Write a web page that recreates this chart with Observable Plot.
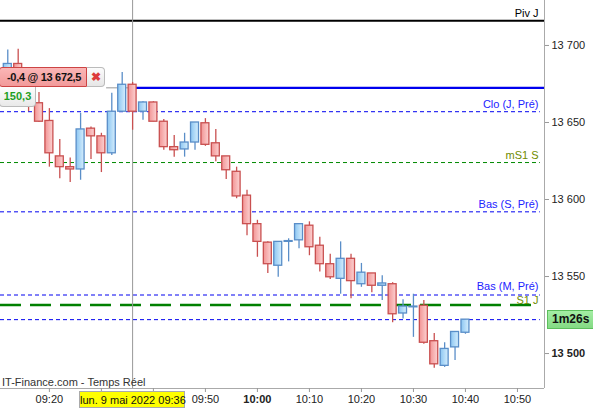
<!DOCTYPE html>
<html>
<head>
<meta charset="utf-8">
<script src="https://cdn.jsdelivr.net/npm/d3@7"></script>
<script src="https://cdn.jsdelivr.net/npm/@observablehq/plot@0.6"></script>
<style>
  html, body { margin: 0; padding: 0; background: #fff; }
  #wrap { position: relative; width: 593px; height: 408px; overflow: hidden; font-family: "Liberation Sans", Arial, sans-serif; }
  #wrap svg { position: absolute; left: 0; top: 0; }
  .ov { position: absolute; box-sizing: border-box; white-space: nowrap; }
</style>
</head>
<body>
<div id="wrap"></div>
<script>
// ---- data ----
const times = ["09:12","09:14","09:16","09:18","09:20","09:22","09:24","09:26","09:28","09:30",
               "09:32","09:34","09:36","09:38","09:40","09:42","09:44","09:46","09:48","09:50",
               "09:52","09:54","09:56","09:58","10:00","10:02","10:04","10:06","10:08","10:10",
               "10:12","10:14","10:16","10:18","10:20","10:22","10:24","10:26","10:28","10:30",
               "10:32","10:34","10:36","10:38","10:40"];
const opens  = [13677,13688,13674,13662.5,13651,13628,13621,13619.5,13646,13641,
                13630,13657,13674.5,13657,13663,13650.5,13634,13632.5,13637,13649.5,
                13636.5,13628,13618,13602.5,13584,13572,13557,13572.5,13573.5,13583,
                13570,13558,13548.5,13561.5,13545,13552,13544,13545,13526,13530,
                13531,13508,13492,13504,13513.5];
const highs  = [13697,13697.5,13678,13669.5,13659,13639,13627,13656,13647,13643,
                13669,13682.5,13676,13663.5,13663.5,13652,13641.5,13643,13650,13652.5,
                13645.5,13628,13621,13606,13586.5,13572.5,13572.5,13574.5,13584,13585.5,
                13575.5,13564.5,13572.5,13564.5,13558.5,13552,13550.5,13546,13535,13538.5,
                13534.5,13513,13507,13514,13522];
const lows   = [13673,13669,13657,13650,13621,13613.5,13611,13612.5,13626,13617.5,
                13628.5,13657,13645,13651.5,13650.5,13632,13627.5,13627.5,13632,13634.5,
                13624.5,13613,13600.5,13576.5,13562.5,13552,13549.5,13559.5,13568,13563.5,
                13553,13548,13538.5,13535.5,13543,13539.5,13534.5,13520,13522.5,13510.5,
                13506,13490.5,13491,13495.5,13512.5];
const closes = [13688,13674,13662.5,13650.5,13630,13621,13619.5,13645.5,13641,13630,
                13657,13674.5,13657,13663,13650.5,13634,13632,13637,13650,13635.5,
                13628,13619,13602,13584,13572.5,13558,13572.5,13573,13584,13569,
                13558,13549.5,13561.5,13547,13552.5,13544,13545.5,13525.5,13530.5,13530.5,
                13507,13493,13503,13514,13522];

const levelLabels = ["Piv J", "Clo (J, Pré)", "mS1 S", "Bas (S, Pré)", "Bas (M, Pré)", "S1 J"];
const levelValues = [13716, 13657, 13624, 13592, 13538, 13531.5];
const positionPrice = 13672.5;
const positionText = "-0,4 @ 13 672,5";
const pnlText = "150,3";
const cursorTime = "09:36";
const cursorLabel = "lun. 9 mai 2022 09:36";
const countdownText = "1m26s";
const sourceText = "IT-Finance.com - Temps Réel";
const yTicks = [13500, 13550, 13600, 13650, 13700];
const xTickLabels = ["09:20","09:30","09:40","09:50","10:00","10:10","10:20","10:30","10:40","10:50"];
const hiddenXLabels = ["09:30","09:40"]; // covered by the cursor date label

// ---- build ----
const parse = d3.utcParse("%Y-%m-%d %H:%M");
const T = s => parse("2022-05-09 " + s);
const candles = times.map((s, i) => ({t: T(s), o: opens[i], h: highs[i], l: lows[i], c: closes[i]}));
const up = candles.filter(d => d.c >= d.o);
const down = candles.filter(d => d.c < d.o);
const half = 46 * 1000;
const xDomain = [new Date(T("09:10").getTime() + 36000), new Date(T("10:55").getTime() + 12000)];
const yDomain = [13477.3, 13729.2];
const dashEnd = new Date(T("10:54").getTime() + 24000);
const levels = levelLabels.map((label, i) => ({label, value: levelValues[i]}));
const lastClose = closes[closes.length - 1];
const yFmt = d => d3.format(",")(d).replace(",", " ");
const hm = d3.utcFormat("%H:%M");
const xFmt = d => hiddenXLabels.includes(hm(d)) ? "" : hm(d);
const labelColor = d => d.label === "Piv J" ? "#000" : (d.label.includes("S1") ? "#6f8c00" : "#2222ff");
const isTight = d => d.label === "Bas (M, Pré)" || d.label === "S1 J";

const RED = "#c95050", BLUE = "#5a8ec8";

const plot = Plot.plot({
  width: 593, height: 408,
  marginLeft: 0, marginRight: 49, marginTop: 0, marginBottom: 20,
  style: {fontFamily: "'Liberation Sans', Arial, sans-serif", fontSize: "11px", color: "#222", background: "transparent"},
  x: {type: "utc", domain: xDomain},
  y: {domain: yDomain},
  marks: [
    // frame
    Plot.ruleX([xDomain[1]], {stroke: "#aaa"}),
    Plot.ruleY([yDomain[0]], {stroke: "#aaa"}),
    // levels
    Plot.ruleY(levels.filter(d => d.label === "Piv J"), {y: "value", stroke: "#000", strokeWidth: 2}),
    Plot.ruleY([...levels.filter(d => d.label.startsWith("Clo") || d.label.startsWith("Bas")).map(d => d.value), lastClose],
      {y: d => d, x1: () => xDomain[0], x2: () => dashEnd, stroke: "#0000f0", strokeDasharray: "4,3"}),
    Plot.ruleY(levels.filter(d => d.label === "mS1 S"),
      {y: "value", x1: () => xDomain[0], x2: () => dashEnd, stroke: "#008a00", strokeDasharray: "4,3"}),
    Plot.ruleY(levels.filter(d => d.label === "S1 J"),
      {y: "value", x1: () => xDomain[0], x2: () => dashEnd, stroke: "#008000", strokeWidth: 2.5, strokeDasharray: "21,9"}),
    // position line
    Plot.ruleY([positionPrice], {y: d => d, x1: () => T("09:31"), x2: () => T(cursorTime), stroke: "#999"}),
    Plot.ruleY([positionPrice], {y: d => d, x1: () => T(cursorTime), x2: () => xDomain[1], stroke: "#0000ee", strokeWidth: 2.2}),
    // level labels
    Plot.text(levels.filter(d => !isTight(d)), {y: "value", text: "label", frameAnchor: "right", dx: -6, dy: -7,
      textAnchor: "end", fill: labelColor}),
    Plot.text(levels.filter(d => d.label === "Bas (M, Pré)"), {y: "value", text: "label", frameAnchor: "right", dx: -6, dy: -9,
      textAnchor: "end", fill: labelColor}),
    Plot.text(levels.filter(d => d.label === "S1 J"), {y: "value", text: "label", frameAnchor: "right", dx: -6, dy: -5,
      textAnchor: "end", fill: labelColor}),
    // crosshair
    Plot.ruleX([T(cursorTime)], {stroke: "#999"}),
    // candles
    Plot.ruleX(up, {x: "t", y1: "l", y2: "h", stroke: BLUE, strokeWidth: 1.3}),
    Plot.ruleX(down, {x: "t", y1: "l", y2: "h", stroke: RED, strokeWidth: 1.3}),
    Plot.rect(up, {x1: d => new Date(+d.t - half), x2: d => new Date(+d.t + half), y1: "o", y2: "c",
      fill: "url(#gBlue)", stroke: BLUE, strokeWidth: 1.3}),
    Plot.rect(down, {x1: d => new Date(+d.t - half), x2: d => new Date(+d.t + half), y1: "o", y2: "c",
      fill: "url(#gRed)", stroke: RED, strokeWidth: 1.3}),
    // axes
    Plot.axisY({anchor: "right", ticks: yTicks, tickFormat: yFmt, tickSize: 4, tickPadding: 3, label: null}),
    Plot.axisX({ticks: xTickLabels.map(T), tickFormat: xFmt, tickSize: 4, tickPadding: 3, label: null})
  ]
});

const ns = "http://www.w3.org/2000/svg";
const defs = document.createElementNS(ns, "defs");
defs.innerHTML = `
  <linearGradient id="gRed" x1="0" y1="0" x2="1" y2="0">
    <stop offset="0" stop-color="#f29494"/><stop offset="1" stop-color="#fcd2d2"/>
  </linearGradient>
  <linearGradient id="gBlue" x1="0" y1="0" x2="1" y2="0">
    <stop offset="0" stop-color="#8cc6f2"/><stop offset="1" stop-color="#d6eefd"/>
  </linearGradient>`;
plot.insertBefore(defs, plot.firstChild);

plot.querySelectorAll("g[aria-label='y-axis tick'], g[aria-label='x-axis tick']").forEach(g => g.setAttribute("stroke", "#999"));
plot.querySelectorAll("g[aria-label='x-axis tick label'] text, g[aria-label='y-axis tick label'] text").forEach(t => {
  if (t.textContent === "10:00" || t.textContent === "13 500") t.setAttribute("font-weight", "bold");
});

const wrap = document.getElementById("wrap");
wrap.appendChild(plot);

function ov(text, css) {
  const d = document.createElement("div");
  d.className = "ov";
  d.textContent = text;
  d.style.cssText += css;
  wrap.appendChild(d);
  return d;
}
ov(sourceText, "left:2px;top:376px;font-size:11px;color:#333;line-height:13px;");
ov(positionText, "left:-1px;top:67px;width:88px;height:20px;background:linear-gradient(#fbb6b6,#f29a9a);border:1px solid #cc4444;border-radius:3px 0 0 3px;font-size:11px;font-weight:bold;letter-spacing:-0.3px;line-height:18px;padding-left:7px;color:#111;");
ov("✖", "left:87px;top:67px;width:18px;height:20px;background:linear-gradient(#fcfcfc,#e6e6e6);border:1px solid #bbb;border-left:none;border-radius:0 4px 4px 0;font-size:12px;font-weight:bold;line-height:18px;text-align:center;color:#dd3b3b;");
ov(pnlText, "left:-1px;top:87px;width:37px;height:20px;background:linear-gradient(#fdfdfd,#e9e9e9);border:1px solid #bbb;border-top:none;border-radius:0 0 4px 4px;font-size:11px;font-weight:bold;line-height:19px;text-align:center;color:#1f9f1f;");
ov(cursorLabel, "left:79px;top:391px;width:106px;height:17px;background:#ffff00;border:1px solid #aaa;font-size:11px;line-height:16px;text-align:center;color:#111;");
ov(countdownText, "left:547px;top:310px;width:48px;height:19px;background:linear-gradient(#a4eea4,#84da84);border:1px solid #5cbf5c;font-size:12px;font-weight:bold;line-height:17px;padding-left:4px;color:#111;");
</script>
</body>
</html>
